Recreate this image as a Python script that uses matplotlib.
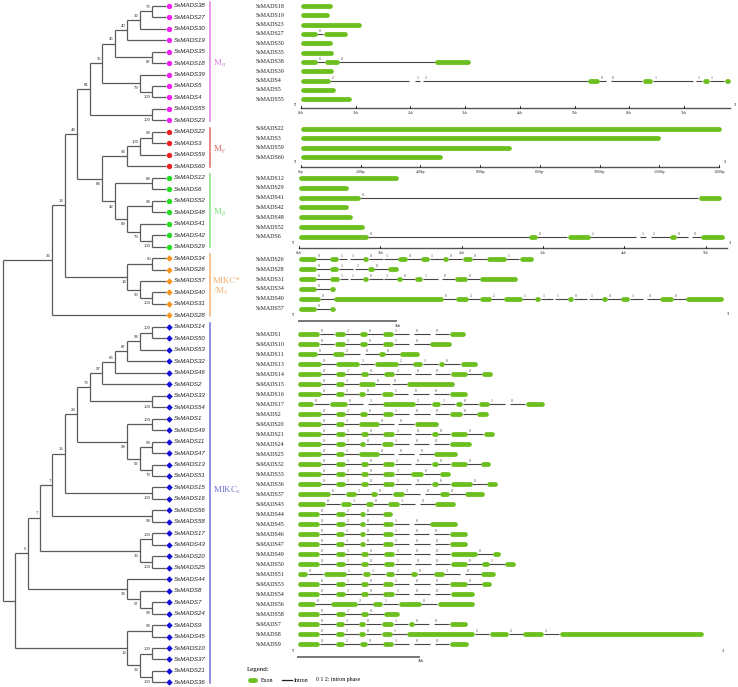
import matplotlib.pyplot as plt
from matplotlib.collections import LineCollection

plt.rcParams['font.family'] = ['Liberation Serif', 'DejaVu Serif']
plt.rcParams['mathtext.fontset'] = 'custom'
plt.rcParams['mathtext.rm'] = 'Liberation Serif'
plt.rcParams['mathtext.it'] = 'Liberation Serif:italic'

W, H = 738, 687

# ---- phylogeny (MEGA cladogram, bootstrap as internal labels) ----
M_ALPHA = ("((((((SsMADS38,SsMADS27)76,SsMADS30)32,SsMADS19)40,(SsMADS35,SsMADS18)87)45,"
           "(SsMADS39,(SsMADS5,SsMADS4)100)79)35,(SsMADS55,SsMADS23)100)81")
M_GAMMA = "(((SsMADS22,SsMADS3)99,SsMADS59)100,SsMADS60)94"
M_BETA = "((SsMADS12,SsMADS6)84,((SsMADS52,SsMADS48)99,(SsMADS41,(SsMADS42,SsMADS29)100)79)89)42"
MIKC_STAR = "((SsMADS34,SsMADS26)60,(SsMADS57,(SsMADS40,SsMADS31)100)90)14"
MIKC_A = ("((((((SsMADS14,SsMADS50)100,SsMADS53)94,SsMADS32)87,SsMADS46)66,SsMADS2)97,"
          "(SsMADS33,SsMADS54)100)73")
MIKC_B = "((SsMADS1,SsMADS49)100,((SsMADS11,SsMADS47)98,(SsMADS13,SsMADS51)79)52)99"
MIKC_C = "((SsMADS17,SsMADS43)100,(SsMADS20,SsMADS25)100)33"
MIKC_D = "(SsMADS44,(SsMADS8,(SsMADS7,SsMADS24)99)57)34"
MIKC_E = "((SsMADS9,SsMADS45)98,((SsMADS10,SsMADS37)100,(SsMADS21,SsMADS36)100)33)13"

TREE = ("((((" + M_ALPHA + ",(" + M_GAMMA + "," + M_BETA + ")88)44," + MIKC_STAR + ")13,SsMADS28)36,"
        "((((((" + MIKC_A + "," + MIKC_B + ")23,(SsMADS15,SsMADS16)100)15,(SsMADS56,SsMADS58)99)7,"
        + MIKC_C + ")7," + MIKC_D + ")5," + MIKC_E + "));")

# ---- gene structures: exon spans (kb, or bp for M-gamma) and intron phases ----
GENES_MA = {
    "SsMADS18": ("0-.57", ""), "SsMADS19": ("0-.52", ""), "SsMADS23": ("0-1.11", ""),
    "SsMADS27": ("0-.30 .41-.84", "0"), "SsMADS30": ("0-.57", ""), "SsMADS35": ("0-.60", ""),
    "SsMADS38": ("0-.30 .44-.70 2.45-3.09", "00"), "SsMADS39": ("0-.60", ""),
    "SsMADS4": ("0-.53 1.98-2.08 2.18-2.23 5.24-5.45 5.58-5.66 6.24-6.43 7.16-7.23 7.34-7.47 7.74-7.85",
                "21200111"),
    "SsMADS5": ("0-.62", ""), "SsMADS55": ("0-.92", ""),
}
GENES_MG = {
    "SsMADS22": ("0-1410", ""), "SsMADS3": ("0-1205", ""),
    "SsMADS59": ("0-705", ""), "SsMADS60": ("0-473", ""),
}
GENES_MB = {
    "SsMADS12": ("0-1.22", ""), "SsMADS29": ("0-.61", ""), "SsMADS41": ("0-.75 4.91-5.19", "0"),
    "SsMADS42": ("0-.61", ""), "SsMADS48": ("0-.66", ""), "SsMADS52": ("0-.80", ""),
    "SsMADS6": ("0-.85 2.83-2.93 3.30-3.58 4.14-4.19 4.27-4.33 4.56-4.64 4.78-4.84 4.94-5.23", "0021200"),
}
GENES_MS = {
    "SsMADS26": ("0-.18 .32-.41 .50-.53 .66-.72 .87-.88 1.02-1.12 1.26-1.35 1.49-1.54 1.69-1.79 "
                 "1.94-2.14 2.28-2.42", "0110101001"),
    "SsMADS28": ("0-.18 .32-.41 .56-.58 .71-.78 .92-1.03", "0120"),
    "SsMADS31": ("0-.18 .32-.42 .51-.53 .66-.72 .87-.88 1.01-1.07 1.20-1.28 1.44-1.48 1.61-1.74 1.87-2.26",
                 "011010100"),
    "SsMADS34": ("0-.18 .32-.38", "0"),
    "SsMADS40": ("0-.22 .36-1.49 1.62-1.75 1.87-1.99 2.12-2.31 2.44-2.50 2.63-2.65 2.78-2.84 2.98-3.00 "
                 "3.13-3.19 3.33-3.42 3.56-3.60 3.73-3.87 4.00-4.39", "0022111010100"),
    "SsMADS57": ("0-.18 .32-.38", "0"),
}
GENES_MC = {
    "SsMADS1": ("0-.18 .30-.39 .51-.57 .70-.79 .92-.96 1.09-1.13 1.25-1.38", "020100"),
    "SsMADS10": ("0-.18 .30-.39 .51-.57 .70-.79 .92-.96 1.09-1.27", "02010"),
    "SsMADS11": ("0-.16 .29-.38 .51-.55 .67-.72 .84-1.00", "0200"),
    "SsMADS13": ("0-.19 .31-.51 .63-.83 .95-1.03 1.16-1.21 1.34-1.48", "01210"),
    "SsMADS14": ("0-.19 .31-.39 .52-.58 .71-.80 .93-.97 1.10-1.13 1.26-1.40 1.52-1.61", "0101000"),
    "SsMADS15": ("0-.19 .31-.38 .50-.64 .76-.78 .90-1.29", "0100"),
    "SsMADS16": ("0-.19 .31-.38 .50-.56 .69-.79 .91-.95 1.08-1.12 1.25-1.40", "010100"),
    "SsMADS17": ("0-.13 .26-.41 .54-.58 .70-.97 1.10-1.18 1.30-1.36 1.49-1.58 1.71-1.75 1.88-2.04", "00121010"),
    "SsMADS2": ("0-.19 .31-.39 .51-.57 .70-.79 .92-.96 1.09-1.13 1.25-1.36 1.48-1.57", "0201000"),
    "SsMADS20": ("0-.19 .31-.38 .50-.67 .79-.83 .96-1.16", "0100"),
    "SsMADS21": ("0-.19 .31-.39 .52-.58 .70-.80 .93-.97 1.10-1.16 1.26-1.40 1.53-1.62", "0101000"),
    "SsMADS24": ("0-.19 .31-.39 .51-.56 .69-.79 .92-.96 1.08-1.12 1.25-1.43", "010100"),
    "SsMADS25": ("0-.19 .31-.38 .50-.67 .79-.83 .96-1.00 1.12-1.32", "01000"),
    "SsMADS32": ("0-.19 .31-.39 .52-.58 .70-.80 .93-.97 1.10-1.16 1.26-1.40 1.51-1.59", "0102000"),
    "SsMADS33": ("0-.19 .31-.39 .52-.58 .70-.80 .93-1.04 1.17-1.26", "01010"),
    "SsMADS36": ("0-.19 .31-.39 .52-.58 .70-.80 .93-.97 1.10-1.16 1.26-1.44 1.56-1.65", "0101000"),
    "SsMADS37": ("0-.27 .39-.48 .60-.66 .78-.88 1.01-1.05 1.17-1.25 1.38-1.54", "010200"),
    "SsMADS43": ("0-.23 .35-.44 .56-.62 .74-.84 .97-1.01 1.13-1.30", "01010"),
    "SsMADS44": ("0-.18 .31-.39 .51-.56 .70-.78", "020"),
    "SsMADS45": ("0-.18 .31-.39 .51-.56 .70-.79 .92-.96 1.09-1.32", "02010"),
    "SsMADS46": ("0-.18 .31-.38 .51-.56 .70-.79 .92-.96 1.08-1.12 1.25-1.40", "010100"),
    "SsMADS47": ("0-.18 .31-.38 .51-.56 .70-.79 .92-.96 1.09-1.13 1.25-1.40", "010200"),
    "SsMADS49": ("0-.18 .31-.39 .52-.58 .71-.80 .93-.96 1.09-1.13 1.26-1.48 1.61-1.67", "0101000"),
    "SsMADS50": ("0-.18 .31-.39 .52-.58 .71-.80 .93-.97 1.10-1.13 1.26-1.40 1.52-1.58 1.71-1.80", "01010001"),
    "SsMADS51": ("0-.08 .21-.40 .53-.60 .72-.80 .93-.99 1.12-1.21 1.34-1.38 1.51-1.63", "0111010"),
    "SsMADS53": ("0-.18 .31-.39 .52-.58 .70-.79 .92-.96 1.09-1.13 1.25-1.40 1.52-1.60", "0102000"),
    "SsMADS54": ("0-.18 .31-.39 .52-.58 .70-.80 .92-.96 1.09-1.13 1.26-1.46", "010100"),
    "SsMADS56": ("0-.14 .27-.49 .62-.70 .83-1.02 1.15-1.46", "0210"),
    "SsMADS58": ("0-.18 .31-.39 .52-.58 .71-.84", "010"),
    "SsMADS7": ("0-.18 .31-.38 .50-.56 .69-.79 .91-.96 1.08-1.12 1.25-1.40", "010100"),
    "SsMADS8": ("0-.18 .31-.38 .50-.56 .69-.78 .90-1.46 1.58-1.74 1.86-2.03 2.16-3.35", "0101222"),
    "SsMADS9": ("0-.18 .31-.38 .51-.57 .70-.79 .92-.96 1.09-1.13 1.25-1.41", "020100"),
}

TICKS_KB_MA = [0, 1, 2, 3, 4, 5, 6, 7]
TICKS_BP_MG = [0, 200, 400, 600, 800, 1000, 1200, 1400]
TICKS_KB_MB = [0, 1, 2, 3, 4, 5]

CLADE_LABELS = [r"M$_\alpha$", r"M$_\gamma$", r"M$_\beta$", "MIKC*\n/M$_\\delta$", r"MIKC$_\mathrm{c}$"]
CLADE_GENES = [GENES_MA, GENES_MG, GENES_MB, GENES_MS, GENES_MC]
CLADE_LINE = ["#e07ee0", "#e06a6a", "#84e084", "#f2b070", "#7272dc"]
MARKER_COL = ["#f020f0", "#ee2020", "#22dd22", "#f7931e", "#1010d8"]
MARKERS = ["o", "o", "o", "D", "D"]

EXON = "#6cbf1f"
INTRON = "#454545"

# layout (pixels)
TIP_PX, LEVEL_PX, Y0_PX, ROW_PX = 165, 12.5, 5.7, 11.47


def parse(s):
    i = 0

    def label():
        nonlocal i
        j = i
        while i < len(s) and s[i] not in ",();":
            i += 1
        return s[j:i]

    def node():
        nonlocal i
        if s[i] == "(":
            kids = []
            while True:
                i += 1
                kids.append(node())
                if s[i] == ")":
                    break
            i += 1
            return {"name": label(), "kids": kids}
        return {"name": label(), "kids": []}
    return node()


leaves = []


def layout(n):
    if not n["kids"]:
        n["y"], n["h"] = len(leaves), 0
        leaves.append(n)
        return
    for k in n["kids"]:
        layout(k)
    n["h"] = 1 + max(k["h"] for k in n["kids"])
    n["y"] = (n["kids"][0]["y"] + n["kids"][-1]["y"]) / 2


segs = []


def collect(n, ax):
    x = -n["h"]
    segs.append([(x, n["kids"][0]["y"]), (x, n["kids"][-1]["y"])])
    for j, k in enumerate(n["kids"]):
        kx = -k["h"] if k["kids"] else 0.08
        segs.append([(x, k["y"]), (kx, k["y"])])
        if k["kids"]:
            if k["name"]:
                dy = -0.38 if j == 0 else 0.45
                ax.text(kx - 0.12, k["y"] + dy, k["name"], fontsize=3.1, color="#333333",
                        ha="right", va="center", family="Liberation Sans")
            collect(k, ax)


fig = plt.figure(figsize=(W / 100, H / 100), dpi=100)
ax = fig.add_axes([0, 0, 1, 1])
ax.set_xlim(-TIP_PX / LEVEL_PX, (W - TIP_PX) / LEVEL_PX)
ax.set_ylim((H - Y0_PX) / ROW_PX, -Y0_PX / ROW_PX)
ax.axis("off")

root = parse(TREE)
layout(root)
collect(root, ax)
ax.add_collection(LineCollection(segs, colors="#5a5a5a", linewidths=0.9))

group_of = {}
for g, genes in enumerate(CLADE_GENES):
    for name in genes:
        group_of[name] = g

for lf in leaves:
    g = group_of[lf["name"]]
    ax.scatter(0.36, lf["y"], marker=MARKERS[g], s=15 if MARKERS[g] == "o" else 11,
               color=MARKER_COL[g], linewidths=0, zorder=3)
    ax.text(0.72, lf["y"], lf["name"], fontsize=4.4, style="italic", color="#222222",
            ha="left", va="center", family="Liberation Sans")

# clade brackets
for g, genes in enumerate(CLADE_GENES):
    ys = [lf["y"] for lf in leaves if group_of[lf["name"]] == g]
    ax.plot([3.6, 3.6], [min(ys) - 0.35, max(ys) + 0.05], color=CLADE_LINE[g], lw=1.1)
    ymid = (min(ys) + max(ys)) / 2 - (1.2 if g == 4 else 0)
    ax.text(3.84, ymid, CLADE_LABELS[g], fontsize=6.5, color=CLADE_LINE[g],
            ha="left", va="center", linespacing=1.1)


# ---- gene structure panels ----
def gene_axes(t, b, x0, sx, y0, dy):
    a = fig.add_axes([240 / W, 1 - b / H, (W - 240) / W, (b - t) / H])
    a.set_xlim((240 - x0) / sx, (W - x0) / sx)
    a.set_ylim((b - y0) / dy, (t - y0) / dy)
    a.axis("off")
    return a


def draw_genes(a, genes, x0, sx, lw_px=4.8):
    rad = lw_px / 2 / sx
    ex_segs, in_segs = [], []
    for r, (name, (ex, ph)) in enumerate(genes.items()):
        a.text((256 - x0) / sx, r, name, fontsize=4.3, color="#222222", ha="left", va="center")
        exons = [tuple(float(v) for v in p.split("-")) for p in ex.split()]
        for s, e in exons:
            if e - s > 2 * rad:
                ex_segs.append([(s + rad, r), (e - rad, r)])
            else:
                m = (s + e) / 2
                ex_segs.append([(m, r), (m + 1e-6, r)])
        for (s1, e1), (s2, e2), p in zip(exons[:-1], exons[1:], ph):
            in_segs.append([(e1, r), (s2, r)])
            a.text(e1 + 1.5 / sx, r - 0.32, p, fontsize=2.8, color="#444444", ha="left", va="center")
    a.add_collection(LineCollection(in_segs, colors=INTRON, linewidths=0.8, zorder=1))
    lc = LineCollection(ex_segs, colors=EXON, linewidths=lw_px * 0.72, zorder=2)
    lc.set_capstyle("round")
    a.add_collection(lc)


def scale_axis(a, ya, end, ticks, unit, x0, sx, dy):
    a.plot([0, end], [ya, ya], color="#555555", lw=1.0)
    for t in ticks:
        a.plot([t, t], [ya, ya - 1.6 / dy], color="#111111", lw=0.6)
        a.text(t, ya + 0.5, f"{t}{unit}", fontsize=2.8, ha="center", va="center", color="#333333")


# M-alpha
x0, sx, y0, dy = 301, 54.7, 6.0, 9.33
a1 = gene_axes(0, 124, x0, sx, y0, dy)
draw_genes(a1, GENES_MA, x0, sx)
scale_axis(a1, (108 - y0) / dy, 7.84, TICKS_KB_MA, "kb", x0, sx, dy)
a1.text((295 - x0) / sx, (105 - y0) / dy, "5'", fontsize=3, ha="center", va="center")
a1.text((735 - x0) / sx, (105 - y0) / dy, "3'", fontsize=3, ha="center", va="center")

# M-gamma (bp)
x0, sx, y0, dy = 301, 0.2985, 129, 9.4
a2 = gene_axes(124, 174, x0, sx, y0, dy)
draw_genes(a2, GENES_MG, x0, sx)
scale_axis(a2, (167 - y0) / dy, 1402, TICKS_BP_MG, "bp", x0, sx, dy)
a2.text((295 - x0) / sx, (162 - y0) / dy, "5'", fontsize=3, ha="center", va="center")
a2.text((725 - x0) / sx, (162 - y0) / dy, "3'", fontsize=3, ha="center", va="center")

# M-beta
x0, sx, y0, dy = 299, 81.3, 178, 9.83
a3 = gene_axes(174, 254, x0, sx, y0, dy)
draw_genes(a3, GENES_MB, x0, sx)
scale_axis(a3, (248 - y0) / dy, 5.26, TICKS_KB_MB, "kb", x0, sx, dy)
a3.text((293 - x0) / sx, (243 - y0) / dy, "5'", fontsize=3, ha="center", va="center")
a3.text((730 - x0) / sx, (243 - y0) / dy, "3'", fontsize=3, ha="center", va="center")

# MIKC* / M-delta
x0, sx, y0, dy = 299, 96.7, 259, 10.0
a4 = gene_axes(254, 330, x0, sx, y0, dy)
draw_genes(a4, GENES_MS, x0, sx)
a4.plot([0, 1], [(321 - y0) / dy] * 2, color="#777777", lw=1.4)
a4.text(1.02, (326 - y0) / dy, "1kb", fontsize=2.8, ha="center", va="center")
a4.text((293 - x0) / sx, (315 - y0) / dy, "5'", fontsize=3, ha="center", va="center")
a4.text((728 - x0) / sx, (314 - y0) / dy, "3'", fontsize=3, ha="center", va="center")

# MIKCc
x0, sx, y0, dy = 298, 121, 334, 10.0
a5 = gene_axes(330, 687, x0, sx, y0, dy)
draw_genes(a5, GENES_MC, x0, sx)
a5.plot([0, 1], [(657 - y0) / dy] * 2, color="#777777", lw=1.4)
a5.text(1.01, (661 - y0) / dy, "1kb", fontsize=2.8, ha="center", va="center")
a5.text((293 - x0) / sx, (651 - y0) / dy, "5'", fontsize=3, ha="center", va="center")
a5.text((723 - x0) / sx, (651 - y0) / dy, "3'", fontsize=3, ha="center", va="center")

# legend
ly1, ly2 = (670 - y0) / dy, (680 - y0) / dy
a5.text((247 - x0) / sx, ly1, "Legend:", fontsize=5, ha="left", va="center")
lc = LineCollection([[((249.5 - x0) / sx, ly2), ((254.5 - x0) / sx, ly2)]], colors=EXON,
                    linewidths=4.8 * 0.72)
lc.set_capstyle("round")
a5.add_collection(lc)
a5.text((261 - x0) / sx, ly2, "Exon", fontsize=4.2, ha="left", va="center")
a5.plot([(282 - x0) / sx, (292 - x0) / sx], [ly2, ly2], color="#222222", lw=0.9)
a5.text((294 - x0) / sx, ly2, "Intron", fontsize=4.2, ha="left", va="center")
a5.text((316 - x0) / sx, ly2, "0 1 2: intron phase", fontsize=4.2, ha="left", va="center")

fig.savefig("out.png", dpi=100)
